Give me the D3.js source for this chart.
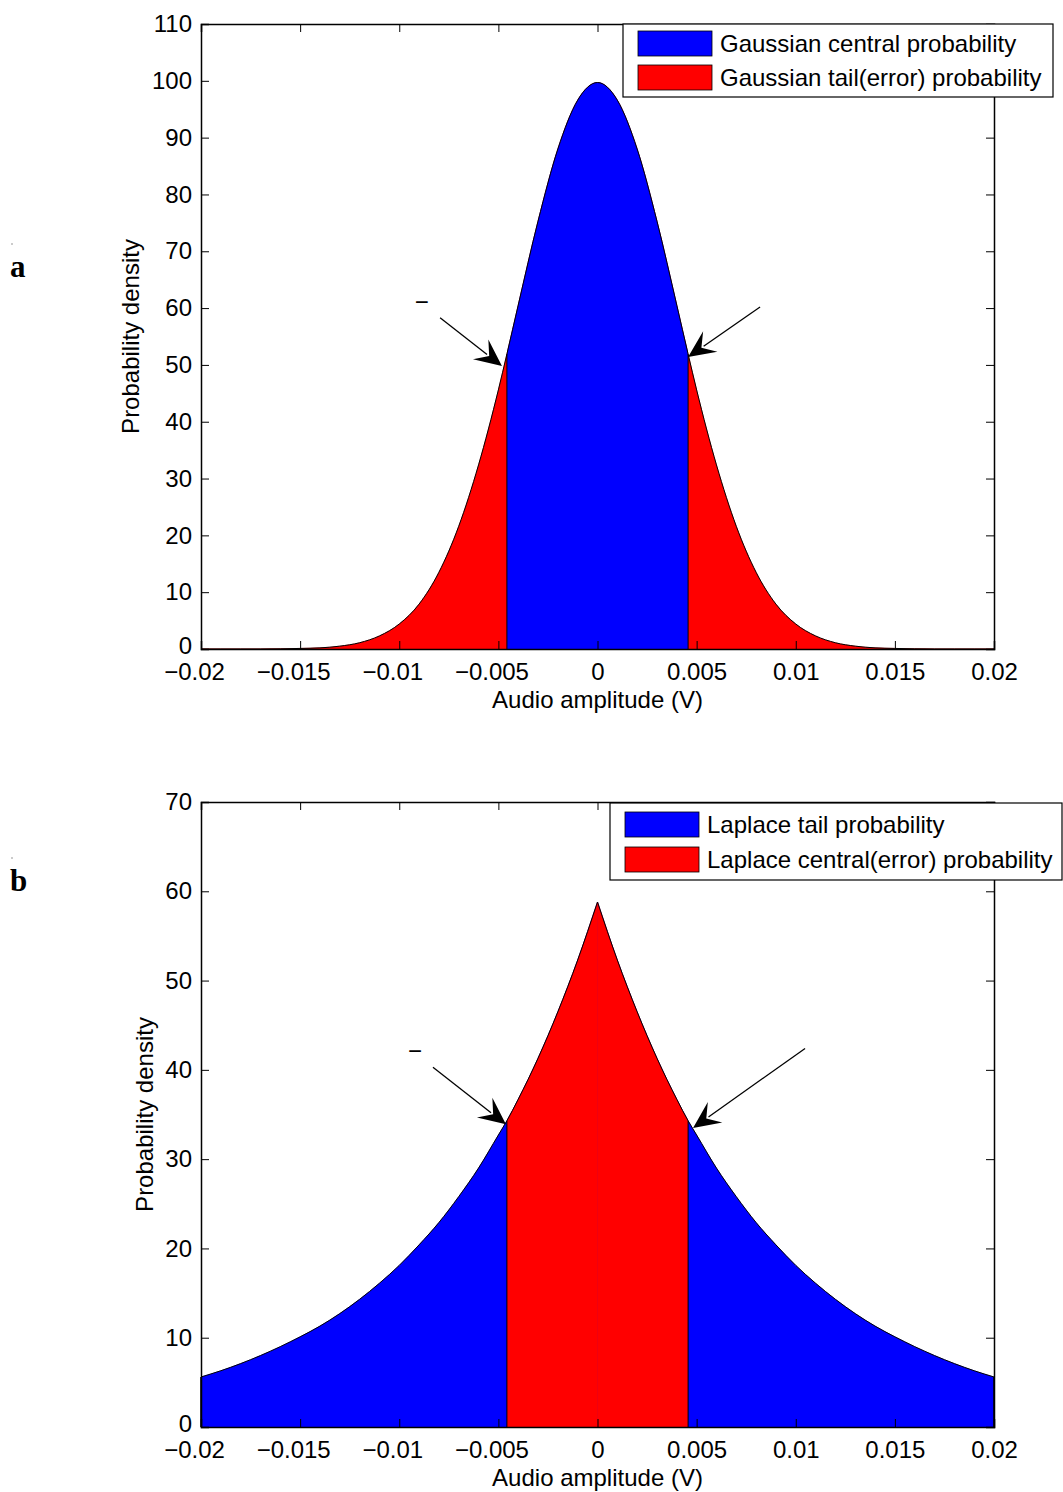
<!DOCTYPE html>
<html><head><meta charset="utf-8">
<script src="https://cdn.jsdelivr.net/npm/d3@7"></script>
<style>body{margin:0;background:#fff}svg{display:block}text{font-family:"Liberation Sans",Arial,sans-serif}text.letter{font-family:"Liberation Serif","Times New Roman",serif;font-weight:bold}</style>
</head><body><svg id="c" width="1063" height="1492"></svg>
<script>
// x sample positions (V), including the cut-off points
const xs = [-0.02,-0.019,-0.018,-0.017,-0.016,-0.015,-0.014,-0.013,-0.012,-0.011,-0.010,-0.009,-0.008,-0.007,-0.006,-0.005,-0.00457,-0.004,-0.003,-0.002,-0.001,0,
            0.001,0.002,0.003,0.004,0.00457,0.005,0.006,0.007,0.008,0.009,0.010,0.011,0.012,0.013,0.014,0.015,0.016,0.017,0.018,0.019,0.02];
const gaussianDensity = [0,0,0,0,0.03,0.1,0.2,0.5,1.1,2.3,4.4,7.9,13.5,21.6,32.4,45.6,51.9,60.5,75.3,88.0,96.6,99.7,
            96.6,88.0,75.3,60.5,51.9,45.6,32.4,21.6,13.5,7.9,4.4,2.3,1.1,0.5,0.2,0.1,0.03,0,0,0,0];
const laplaceDensity = [5.6,6.3,7.1,8.0,9.0,10.1,11.3,12.7,14.3,16.1,18.1,20.4,22.9,25.8,29.0,32.7,34.3,36.7,41.3,46.5,52.3,58.8,
            52.3,46.5,41.3,36.7,34.3,32.7,29.0,25.8,22.9,20.4,18.1,16.1,14.3,12.7,11.3,10.1,9.0,8.0,7.1,6.3,5.6];
const cutoff = 0.00457;
const xTicks = [-0.02,-0.015,-0.01,-0.005,0,0.005,0.01,0.015,0.02];
const xTickLabels = ["\u22120.02","\u22120.015","\u22120.01","\u22120.005","0","0.005","0.01","0.015","0.02"];
const yTicksA = [0,10,20,30,40,50,60,70,80,90,100,110];
const yTicksB = [0,10,20,30,40,50,60,70];
const legendA = ["Gaussian central probability","Gaussian tail(error) probability"];
const legendB = ["Laplace tail probability","Laplace central(error) probability"];
const blue = "#0000ff", red = "#ff0000";

const svg = d3.select("#c");
const FS = 24;
let clipId = 0;

function panel(cfg){
  const g = svg.append("g");
  const x = d3.scaleLinear().domain([-0.02,0.02]).range([201,994]);
  const y = d3.scaleLinear().domain([0,cfg.ymax]).range([cfg.bottom,cfg.top]);
  const pts = xs.map((v,i)=>({x:v,y:cfg.vals[i]}));
  // a cusp-shaped density is drawn as two halves so its peak stays sharp
  const pieces = cfg.cusp ? [pts.filter(d=>d.x<=0), pts.filter(d=>d.x>=0)] : [pts];
  const area = d3.area().x(d=>x(d.x)).y0(y(0)).y1(d=>y(d.y)).curve(d3.curveMonotoneX);
  const line = d3.line().x(d=>x(d.x)).y(d=>y(d.y)).curve(d3.curveMonotoneX);

  const cid = "clip"+(clipId++);
  g.append("clipPath").attr("id",cid).append("rect")
    .attr("x",x(-cutoff)).attr("y",cfg.top).attr("width",x(cutoff)-x(-cutoff)).attr("height",cfg.bottom-cfg.top);
  g.selectAll("path.tail").data(pieces).join("path").attr("class","tail")
    .attr("d",d=>area(d)).attr("fill",cfg.tailColor).attr("stroke",cfg.tailColor).attr("stroke-width",0.5);
  g.append("g").attr("clip-path",`url(#${cid})`).selectAll("path").data(pieces).join("path")
    .attr("d",d=>area(d)).attr("fill",cfg.centerColor).attr("stroke",cfg.centerColor).attr("stroke-width",0.5);
  g.selectAll("path.edge").data(pieces).join("path").attr("class","edge")
    .attr("d",d=>line(d)).attr("fill","none").attr("stroke","#000").attr("stroke-width",1);
  const cutPts = pts.filter(d=>Math.abs(Math.abs(d.x)-cutoff)<1e-9);
  g.selectAll("line.cut").data(cutPts).join("line").attr("class","cut")
    .attr("x1",d=>x(d.x)).attr("x2",d=>x(d.x)).attr("y1",y(0)).attr("y2",d=>y(d.y))
    .attr("stroke","#000").attr("stroke-width",1);
  const endPts = [pts[0],pts[pts.length-1]].filter(d=>d.y>0);
  g.selectAll("line.end").data(endPts).join("line").attr("class","end")
    .attr("x1",d=>x(d.x)).attr("x2",d=>x(d.x)).attr("y1",y(0)).attr("y2",d=>y(d.y))
    .attr("stroke","#000").attr("stroke-width",1.5);

  // axes (inward ticks)
  const tl = 8;
  const ax = [
    g.append("g").attr("transform",`translate(0,${cfg.bottom})`).call(d3.axisBottom(x).tickValues(xTicks).tickSize(-tl).tickPadding(14).tickFormat((d,i)=>xTickLabels[i])),
    g.append("g").attr("transform",`translate(0,${cfg.top})`).call(d3.axisTop(x).tickValues(xTicks).tickSize(-tl).tickFormat("")),
    g.append("g").attr("transform",`translate(201,0)`).call(d3.axisLeft(y).tickValues(cfg.yTicks).tickSize(-tl).tickPadding(9).tickFormat(d3.format("d"))),
    g.append("g").attr("transform",`translate(994,0)`).call(d3.axisRight(y).tickValues(cfg.yTicks).tickSize(-tl).tickFormat(""))
  ];
  ax.forEach(a=>{
    a.select(".domain").attr("stroke","#000").attr("stroke-width",1.5);
    a.selectAll(".tick line").attr("stroke","#000").attr("stroke-width",1);
    a.selectAll("text").attr("font-size",FS).attr("fill","#000");
  });
  // negative labels: centre the digits, minus sign hangs to the left
  ax[0].selectAll(".tick text").attr("dx",d=>d<0?"-0.29em":"0");
  ax[2].selectAll(".tick text").attr("dy",d=>d===0?"0.2em":"0.32em");

  g.append("text").attr("x",597.5).attr("y",cfg.bottom+59).attr("text-anchor","middle").attr("font-size",FS).text("Audio amplitude (V)");
  g.append("text").attr("transform",`translate(${cfg.ylabelX},${(cfg.top+cfg.bottom)/2}) rotate(-90)`)
    .attr("text-anchor","middle").attr("font-size",FS).text("Probability density");

  // legend
  const L = cfg.legend;
  const lg = g.append("g");
  lg.append("rect").attr("x",L.x).attr("y",L.y).attr("width",L.w).attr("height",L.h).attr("fill","#fff").attr("stroke","#000").attr("stroke-width",1.2);
  cfg.legendLabels.forEach((t,i)=>{
    const yy = L.y + L.pad + i*L.step;
    lg.append("rect").attr("x",L.x+15).attr("y",yy).attr("width",74).attr("height",25)
      .attr("fill",i===0?blue:red).attr("stroke","#000").attr("stroke-width",0.8);
    lg.append("text").attr("x",L.x+97).attr("y",yy+21).attr("font-size",FS).text(t);
  });

  // annotations: arrows and dash text
  cfg.arrows.forEach(a=>{
    const x1=x(a.x1), y1=y(a.y1), x2=x(a.x2), y2=y(a.y2);
    const dx=x2-x1, dy=y2-y1, len=Math.hypot(dx,dy), ux=dx/len, uy=dy/len, px=-uy, py=ux;
    const Lh=27, W=12.5, N=0.6;
    g.append("line").attr("x1",x1).attr("y1",y1).attr("x2",x2-ux*Lh*0.7).attr("y2",y2-uy*Lh*0.7).attr("stroke","#000").attr("stroke-width",1.3);
    const p = [[x2,y2],[x2-ux*Lh+px*W,y2-uy*Lh+py*W],[x2-ux*Lh*N,y2-uy*Lh*N],[x2-ux*Lh-px*W,y2-uy*Lh-py*W]];
    g.append("path").attr("d","M"+p.map(q=>q.join(",")).join("L")+"Z").attr("fill","#000");
  });
  g.append("text").attr("x",x(cfg.dash.x)).attr("y",y(cfg.dash.y)).attr("dy","0.32em").attr("text-anchor","middle").attr("font-size",FS).text("\u2212");

  // panel letter
  svg.append("circle").attr("cx",12).attr("cy",cfg.dotY).attr("r",0.8).attr("fill","#888");
  svg.append("text").attr("class","letter").attr("x",10).attr("y",cfg.letterY).attr("font-size",31).text(cfg.letter);
}

panel({top:24,bottom:649,ymax:110,yTicks:yTicksA,vals:gaussianDensity,cusp:false,
  tailColor:red,centerColor:blue,ylabelX:139,legendLabels:legendA,
  legend:{x:623,y:24,w:430,h:73,pad:7,step:34},
  arrows:[{x1:-0.00794,y1:58.3,x2:-0.00482,y2:49.8},{x1:0.0082,y1:60.2,x2:0.00457,y2:51.4}],
  dash:{x:-0.00886,y:61.1},letter:"a",letterY:277,dotY:244});

panel({top:802,bottom:1427,ymax:70,yTicks:yTicksB,vals:laplaceDensity,cusp:true,
  tailColor:blue,centerColor:red,ylabelX:153,legendLabels:legendB,
  legend:{x:610,y:803,w:452,h:77,pad:9,step:35},
  arrows:[{x1:-0.0083,y1:40.3,x2:-0.00462,y2:33.9},{x1:0.01047,y1:42.4,x2:0.00482,y2:33.5}],
  dash:{x:-0.0092,y:42.1},letter:"b",letterY:891,dotY:858});
</script></body></html>
